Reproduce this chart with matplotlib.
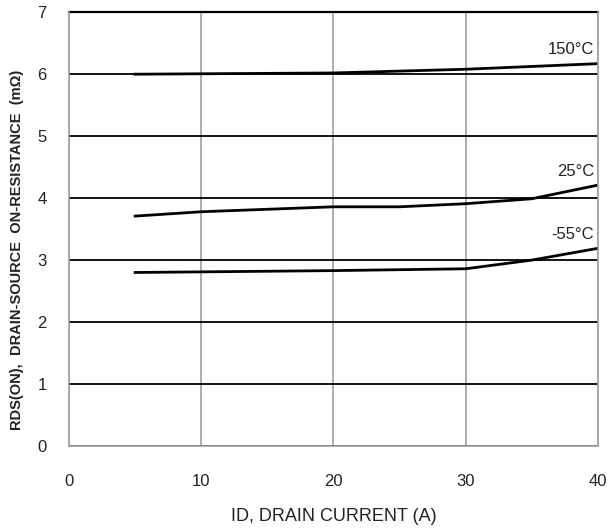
import matplotlib
matplotlib.use("Agg")
import matplotlib.pyplot as plt

plt.rcParams['font.family'] = ['Liberation Sans Narrow', 'Liberation Sans', 'DejaVu Sans']

# drain current (A) and on-resistance (mOhm) per temperature
id_150 = [5, 20, 30, 40]
r_150 = [6.00, 6.02, 6.08, 6.17]

id_25 = [5, 10, 20, 25, 30, 35, 40]
r_25 = [3.71, 3.78, 3.86, 3.86, 3.91, 3.99, 4.21]

id_m55 = [5, 20, 30, 35, 40]
r_m55 = [2.80, 2.83, 2.86, 3.00, 3.19]

labels = ["150°C", "25°C", "-55°C"]

fig = plt.figure(figsize=(6.08, 5.32), dpi=100)
ax = fig.add_axes([0.1135, 0.1617, 0.870, 0.8153])

ax.set_xlim(0, 40)
ax.set_ylim(0, 7)
ax.set_xticks([0, 10, 20, 30, 40])
ax.set_yticks(range(0, 8))

ax.xaxis.grid(True, color="#a0a0a0", linewidth=1.2)
ax.yaxis.grid(True, color="black", linewidth=1.3)
ax.set_axisbelow(True)
for s in ax.spines.values():
    s.set_color("#a0a0a0")
    s.set_linewidth(1.2)
ax.spines['top'].set_visible(False)
ax.axhline(7, color="black", linewidth=1.6, clip_on=False)

ax.tick_params(length=0, labelsize=12, colors="#222222", pad=16)
ax.tick_params(axis='x', pad=20)

for xs, ys, lab in zip([id_150, id_25, id_m55], [r_150, r_25, r_m55], labels):
    ax.plot(xs, ys, color="black", linewidth=2)
    ax.text(39.7, ys[-1] + 0.1, lab, ha="right", va="bottom", fontsize=12, color="#222222")

ax.set_xlabel("ID, DRAIN CURRENT (A)", fontsize=13, color="#222222", labelpad=14)
fig.text(0.028, 0.53, "RDS(ON),  DRAIN-SOURCE  ON-RESISTANCE  (mΩ)", rotation=90,
         ha="center", va="center", fontsize=10.5, fontweight="bold", color="#222222")

fig.savefig("out.png", dpi=100)
